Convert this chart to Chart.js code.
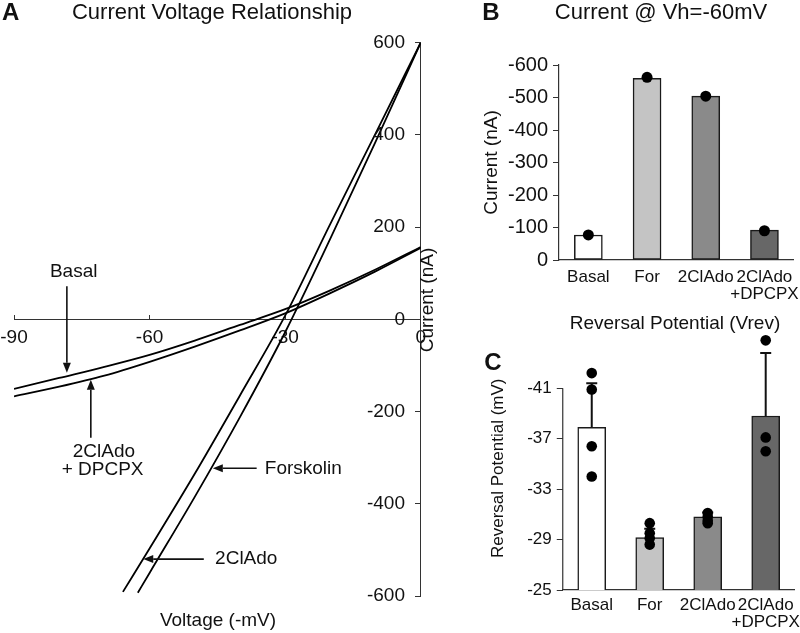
<!DOCTYPE html>
<html><head><meta charset="utf-8">
<script src="https://cdn.jsdelivr.net/npm/chart.js@4"></script>
<style>
html,body{margin:0;padding:0;background:#fff;}
body{width:800px;height:633px;position:relative;overflow:hidden;}
canvas{position:absolute;}
</style></head><body>
<canvas id="cA" width="440" height="633" style="left:0;top:0"></canvas>
<canvas id="cB" width="360" height="300" style="left:440px;top:0"></canvas>
<canvas id="cC" width="360" height="333" style="left:440px;top:300px"></canvas>
<script>
// ---------- Panel A: current-voltage curves ----------
const basalV      = [-90, -80, -70, -60, -50, -40, -30, -20, -10, 0];
const basalI      = [-151, -127, -103, -77, -46, -12, 22, 63, 108, 157];
const dpcpxV      = [-90, -80, -70, -60, -50, -40, -30, -20, -10, 0];
const dpcpxI      = [-167, -146, -122, -92, -59, -24, 13, 57, 104, 155];
const forskolinV  = [-62.6, -60, -50, -40, -30, -20, -10, 0];
const forskolinI  = [-593, -550, -385, -212, -28, 175, 385, 600];
const clAdoV      = [-65.9, -60, -50, -40, -30, -20, -10, 0];
const clAdoI      = [-591, -497, -335, -165, 8, 207, 403, 600];

// ---------- Panel B: current at Vh=-60 mV ----------
const categories    = ['Basal', 'For', '2ClAdo', '2ClAdo + DPCPX'];
const currentMeans  = [-77, -559, -504, -92];
const currentPoints = [-77, -562, -504, -90];

// ---------- Panel C: reversal potential ----------
const vrevTicks   = [-41, -37, -33, -29, -25];
const vrevMeans   = [-37.9, -29.15, -30.8, -38.8];
const vrevErrors  = [3.5, 0.7, 0.35, 5.0];
const vrevBasal   = [-42.2, -40.9, -36.4, -34.0];
const vrevFor     = [-30.3, -29.5, -29.1, -28.6];
const vrevClAdo   = [-31.1, -30.8, -30.5, -30.3];
const vrevDpcpx   = [-44.8, -37.1, -36.0];

const barColors = ['#ffffff', '#c4c4c4', '#8a8a8a', '#676767'];

const FF = '"Liberation Sans", Arial, Helvetica, sans-serif';
Chart.defaults.font.family = FF;
Chart.defaults.color = '#111';

const zeroPad = s => { s.paddingLeft = 0; s.paddingRight = 0; s.paddingTop = 0; s.paddingBottom = 0; };
const pts = (xs, ys) => xs.map((v, i) => ({x: v, y: ys[i]}));
const splitLabel = l => l.indexOf(' + ') > 0 ? [l.split(' + ')[0], '+' + l.split(' + ')[1]] : l;

function arrow(ctx, x1, y1, x2, y2) {
  const a = Math.atan2(y2 - y1, x2 - x1), L = 10, W = 4;
  ctx.beginPath(); ctx.moveTo(x1, y1);
  ctx.lineTo(x2 - L * Math.cos(a), y2 - L * Math.sin(a)); ctx.stroke();
  ctx.beginPath();
  ctx.moveTo(x2, y2);
  ctx.lineTo(x2 - L * Math.cos(a) + W * Math.sin(a), y2 - L * Math.sin(a) - W * Math.cos(a));
  ctx.lineTo(x2 - L * Math.cos(a) - W * Math.sin(a), y2 - L * Math.sin(a) + W * Math.cos(a));
  ctx.closePath(); ctx.fill();
}
function vtext(ctx, t, x, y) {
  ctx.save(); ctx.translate(x, y); ctx.rotate(-Math.PI / 2);
  ctx.textAlign = 'center'; ctx.textBaseline = 'middle'; ctx.fillText(t, 0, 0); ctx.restore();
}

const lineDs = (xs, ys) => ({
  data: pts(xs, ys), showLine: true, pointRadius: 0, borderColor: '#000',
  borderWidth: 1.8, cubicInterpolationMode: 'monotone', fill: false
});

const panelA = {
  id: 'panelA',
  afterDraw(chart) {
    const {ctx, scales: {x, y}} = chart;
    const px = v => x.getPixelForValue(v), py = v => y.getPixelForValue(v);
    ctx.save();
    ctx.fillStyle = '#111'; ctx.strokeStyle = '#111'; ctx.lineWidth = 1.6;
    ctx.textBaseline = 'middle';
    // y tick labels, placed left of the axis drawn at V = 0
    ctx.font = '19px ' + FF; ctx.textAlign = 'right';
    y.ticks.forEach(t => ctx.fillText(String(t.value), px(0) - 15.7, py(t.value)));
    ctx.font = 'bold 24px ' + FF; ctx.textAlign = 'left'; ctx.fillText('A', 2, 13);
    ctx.font = '22px ' + FF; ctx.textAlign = 'center'; ctx.fillText('Current Voltage Relationship', 212, 13);
    ctx.font = '19px ' + FF;
    ctx.fillText('Voltage (-mV)', 218, 621);
    vtext(ctx, 'Current (nA)', 428, 300);
    // annotations
    ctx.textAlign = 'center';
    ctx.fillText('Basal', px(-76.8), py(103));
    arrow(ctx, px(-78.3), py(72), px(-78.3), py(-116));
    ctx.fillText('2ClAdo', px(-70.1), py(-287));
    ctx.fillText('+ DPCPX', px(-70.4), py(-327));
    arrow(ctx, px(-73.0), py(-257), px(-73.0), py(-131));
    ctx.textAlign = 'left';
    ctx.fillText('Forskolin', px(-34.5), py(-323));
    arrow(ctx, px(-36.3), py(-323), px(-46.0), py(-323));
    ctx.fillText('2ClAdo', px(-45.5), py(-520));
    arrow(ctx, px(-48.0), py(-520), px(-61.4), py(-520));
    ctx.restore();
  }
};

new Chart(document.getElementById('cA'), {
  type: 'scatter',
  data: { datasets: [lineDs(basalV, basalI), lineDs(dpcpxV, dpcpxI), lineDs(forskolinV, forskolinI), lineDs(clAdoV, clAdoI)] },
  options: {
    responsive: false, animation: false, devicePixelRatio: 1,
    layout: { padding: { left: 14, right: 19.3, top: 42.7, bottom: 37 } },
    plugins: { legend: { display: false }, tooltip: { enabled: false } },
    scales: {
      x: { type: 'linear', min: -90, max: 0, position: { y: 0 },
           ticks: { stepSize: 30, font: { size: 19 }, padding: 12.3, maxRotation: 0, autoSkip: false, color: '#111' },
           grid: { drawOnChartArea: false, tickLength: -5, color: '#333' },
           border: { color: '#333', width: 1 }, afterFit: zeroPad },
      y: { type: 'linear', min: -600, max: 600, position: { x: 0 },
           ticks: { stepSize: 200, display: false },
           grid: { drawOnChartArea: false, tickLength: 5, color: '#333' },
           border: { color: '#333', width: 1 }, afterFit: zeroPad }
    }
  },
  plugins: [panelA]
});

// ---------- Panel B ----------
const panelB = {
  id: 'panelB',
  afterDraw(chart) {
    const {ctx} = chart;
    ctx.save(); ctx.fillStyle = '#111'; ctx.textBaseline = 'middle';
    ctx.font = 'bold 24px ' + FF; ctx.textAlign = 'center'; ctx.fillText('B', 51, 13);
    ctx.font = '22px ' + FF; ctx.fillText('Current @ Vh=-60mV', 221, 13);
    ctx.font = '19px ' + FF; vtext(ctx, 'Current (nA)', 52, 162.5);
    ctx.restore();
  }
};

new Chart(document.getElementById('cB'), {
  type: 'bar',
  data: {
    labels: categories,
    datasets: [
      { data: currentMeans, backgroundColor: barColors, borderColor: '#1a1a1a', borderWidth: 1.5,
        borderSkipped: false, barThickness: 28, order: 2 },
      { type: 'line', data: currentPoints, showLine: false, pointRadius: 5.5, pointBackgroundColor: '#000',
        pointBorderWidth: 0, clip: false, order: 1 }
    ]
  },
  options: {
    responsive: false, animation: false, devicePixelRatio: 1,
    layout: { padding: { left: 0, right: 6.2, top: 65, bottom: 0 } },
    plugins: { legend: { display: false }, tooltip: { enabled: false } },
    scales: {
      x: { ticks: { font: { size: 17, lineHeight: 1 }, padding: 8.5, maxRotation: 0, autoSkip: false, color: '#111',
                    callback: (v, i) => splitLabel(categories[i]) },
           grid: { display: true, drawOnChartArea: false, drawTicks: false },
           border: { color: '#333', width: 1.2 },
           afterFit: s => { zeroPad(s); s.height = 40; } },
      y: { min: -600, max: 0, reverse: true,
           ticks: { stepSize: 100, font: { size: 20 }, padding: 5, color: '#111' },
           grid: { drawOnChartArea: false, tickLength: 6, color: '#333' },
           border: { color: '#333', width: 1.2 },
           afterFit: s => { zeroPad(s); s.width = 119; } }
    }
  },
  plugins: [panelB]
});

// ---------- Panel C ----------
const vrevGroups = [vrevBasal, vrevFor, vrevClAdo, vrevDpcpx];
const vrevDots = [];
vrevGroups.forEach((g, i) => g.forEach(v => vrevDots.push({ x: categories[i], y: v })));

const panelC = {
  id: 'panelC',
  afterDatasetDraw(chart, args) {
    if (args.index !== 0) return;
    const {ctx, scales: {x, y}} = chart;
    ctx.save(); ctx.strokeStyle = '#111'; ctx.lineWidth = 2;
    vrevMeans.forEach((m, i) => {
      const cx = x.getPixelForValue(i), y0 = y.getPixelForValue(m), y1 = y.getPixelForValue(m - vrevErrors[i]);
      ctx.beginPath(); ctx.moveTo(cx, y0); ctx.lineTo(cx, y1);
      ctx.moveTo(cx - 5.5, y1); ctx.lineTo(cx + 5.5, y1); ctx.stroke();
    });
    ctx.restore();
  },
  afterDraw(chart) {
    const {ctx, chartArea, scales: {y}} = chart;
    ctx.save();
    // value axis line spanning the labelled range only
    ctx.strokeStyle = '#333'; ctx.lineWidth = 1.2;
    ctx.beginPath();
    ctx.moveTo(chartArea.left, y.getPixelForValue(vrevTicks[0]));
    ctx.lineTo(chartArea.left, y.getPixelForValue(vrevTicks[vrevTicks.length - 1]));
    ctx.stroke();
    ctx.fillStyle = '#111'; ctx.textBaseline = 'middle';
    ctx.font = 'bold 24px ' + FF; ctx.textAlign = 'center'; ctx.fillText('C', 53, 63);
    ctx.font = '19px ' + FF; ctx.fillText('Reversal Potential (Vrev)', 235, 24);
    ctx.font = '17px ' + FF; vtext(ctx, 'Reversal Potential (mV)', 58.3, 168.3);
    ctx.restore();
  }
};

new Chart(document.getElementById('cC'), {
  type: 'bar',
  data: {
    labels: categories,
    datasets: [
      { data: vrevMeans, backgroundColor: barColors, borderColor: '#1a1a1a', borderWidth: 1.5,
        borderSkipped: false, barThickness: 28, order: 2 },
      { type: 'line', data: vrevDots, showLine: false, pointRadius: 5.3, pointBackgroundColor: '#000',
        pointBorderWidth: 0, clip: false, order: 1 }
    ]
  },
  options: {
    responsive: false, animation: false, devicePixelRatio: 1,
    layout: { padding: { left: 0, right: 3.25, top: 31.5, bottom: 0 } },
    plugins: { legend: { display: false }, tooltip: { enabled: false } },
    scales: {
      x: { ticks: { font: { size: 17, lineHeight: 1 }, padding: 6.5, maxRotation: 0, autoSkip: false, color: '#111',
                    callback: (v, i) => splitLabel(categories[i]) },
           grid: { display: true, drawOnChartArea: false, drawTicks: false },
           border: { color: '#333', width: 1.2 },
           afterFit: s => { zeroPad(s); s.height = 43; } },
      y: { min: -45.5, max: -25, reverse: true,
           afterBuildTicks: s => { s.ticks = vrevTicks.map(v => ({ value: v })); },
           ticks: { font: { size: 17 }, padding: 5, color: '#111' },
           grid: { drawOnChartArea: false, tickLength: 6, color: '#333' },
           border: { display: false },
           afterFit: s => { zeroPad(s); s.width = 122.75; } }
    }
  },
  plugins: [panelC]
});
</script>
</body></html>
